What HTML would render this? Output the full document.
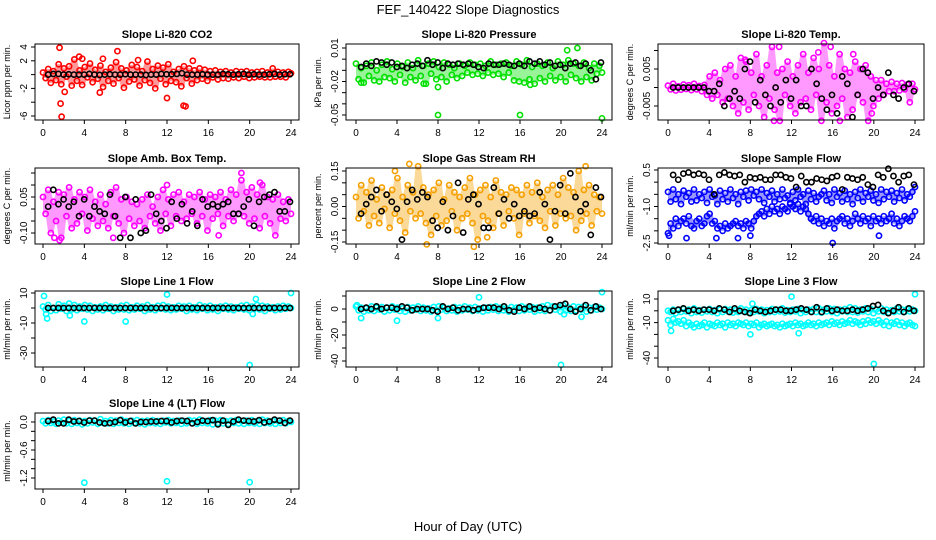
<!DOCTYPE html>
<html><head><meta charset="utf-8"><style>
body{margin:0;background:#fff;}
svg{display:block;font-family:"Liberation Sans",sans-serif;}
</style></head><body>
<svg id="chart" width="936" height="540" viewBox="0 0 936 540">
<text x="468" y="14" text-anchor="middle" font-size="13">FEF_140422  Slope Diagnostics</text>
<text x="468" y="531" text-anchor="middle" font-size="13">Hour of Day (UTC)</text>
</svg>
<script>
const co2Color=[0.3,-0.5,0.8,-1.2,0.5,-0.8,1.5,-1.4,0.9,-0.3,1.2,-1.6,2.2,-0.9,0.6,-1.5,1.1,-0.4,1.6,-1.1,0.7,-0.6,1.3,-1.8,0.4,-0.9,1.0,-1.3,1.8,-0.5,0.9,-1.9,0.6,-1.0,1.4,-0.7,1.1,-1.6,0.5,-0.8,1.9,-1.2,0.8,-2.0,1.3,-0.6,1.0,-1.4,1.5,-0.9,0.4,-1.1,0.8,-1.7,1.2,-0.5,0.9,-1.3,0.6,-0.8,0.9,-0.6,0.7,-0.9,0.5,-0.4,0.6,-0.7,0.4,-0.5,0.5,-0.6,0.3,-0.4,0.5,-0.5,0.4,-0.3,0.5,-0.5,0.3,-0.4,0.4,-0.3,0.5,-0.4,0.3,-0.4,0.9,-0.3,0.4,-0.3,0.3,-0.4,0.4,0.2];
const co2Black=[0,0.1,0.1,0,0.05,0,0,0,0.1,0,-0.05,0,0.05,0,0,0.05,0,0,0,-0.05,0,0,0.1,0.05,0.05,0.1,0.2,0,0,0,0.05,0,0,0,0.1,0.05,0,0.05,0.1,0,0.05,0,0,0.05,0.1,0,0.05,0.05];
const co2OutHr=[1.6,1.8,1.7,7.2,5.8,3.5,13.6,12,14.5,5.5,3.8,2.1,9.2,13.8];
const co2OutVal=[3.9,-6.1,-4.2,3.4,2.3,2.6,-4.5,-3.4,2.0,-2.6,2.3,-2.5,2.1,-4.6];

const presColor=[-0.004,-0.018,-0.008,-0.021,-0.006,-0.015,-0.003,-0.019,-0.010,-0.020,-0.005,-0.016,-0.002,-0.017,-0.009,-0.020,-0.004,-0.014,-0.007,-0.021,-0.003,-0.016,-0.008,-0.019,-0.001,-0.015,-0.006,-0.022,-0.004,-0.013,-0.002,-0.018,-0.007,-0.016,-0.003,-0.020,-0.005,-0.014,-0.008,-0.017,-0.004,-0.015,-0.006,-0.012,-0.003,-0.014,-0.005,-0.013,-0.004,-0.015,-0.006,-0.012,-0.002,-0.014,-0.005,-0.013,-0.004,-0.016,-0.003,-0.012,-0.006,-0.019,-0.002,-0.020,-0.005,-0.021,-0.001,-0.018,-0.007,-0.022,-0.004,-0.017,-0.006,-0.020,-0.003,-0.015,-0.008,-0.019,-0.002,-0.016,-0.005,-0.020,-0.001,-0.014,-0.004,-0.017,-0.006,-0.020,-0.003,-0.016,-0.008,-0.019,-0.004,-0.013,-0.006,-0.012];
const presBlack=[-0.007,-0.004,-0.006,-0.002,-0.003,-0.005,-0.003,-0.007,-0.006,-0.008,-0.005,-0.004,-0.006,-0.001,-0.005,-0.003,-0.008,-0.004,-0.005,-0.004,-0.005,-0.004,-0.005,-0.007,-0.008,-0.004,-0.005,-0.005,-0.004,-0.005,-0.006,-0.004,-0.006,-0.002,-0.004,-0.002,-0.005,-0.003,-0.006,-0.005,-0.008,-0.004,-0.003,-0.006,-0.004,-0.010,-0.018,-0.003];
const presOutHr=[8,8,16,24,21.6,20.6,0.5,6.6,17];
const presOutVal=[-0.025,-0.050,-0.050,-0.053,0.010,0.008,-0.021,-0.022,-0.023];

const tempColor=[0.0005,-0.0005,0.001,-0.0008,0.0003,-0.0006,0.0008,-0.0004,0.0006,-0.0007,0.001,-0.0005,0.0004,-0.001,0.0007,-0.002,0.003,-0.003,0.004,-0.002,0.002,-0.004,0.005,-0.003,0.006,-0.005,0.003,-0.007,0.008,-0.004,0.007,-0.006,0.004,-0.002,0.009,-0.005,0.003,-0.008,0.006,-0.003,0.011,-0.006,0.004,-0.009,0.005,-0.002,0.007,-0.005,0.003,-0.007,0.006,-0.004,0.009,-0.003,0.004,-0.006,0.008,-0.002,0.005,-0.009,0.012,-0.004,0.006,-0.007,0.003,-0.005,0.009,-0.003,0.005,-0.008,0.004,-0.006,0.007,-0.002,0.005,-0.004,0.006,-0.009,0.003,-0.005,0.002,-0.003,0.002,-0.002,0.001,-0.001,0.0015,-0.001,0.001,-0.0008,0.0012,-0.0005,0.0008,-0.004,0.001,-0.0005];
const tempBlack=[0,0,0,0,0,0,0,-0.001,-0.001,0.001,-0.005,-0.003,-0.001,-0.003,0.005,0.007,-0.004,0.002,-0.002,-0.005,0,-0.004,0.002,-0.003,0.002,-0.005,-0.005,0.005,0.001,-0.003,-0.006,-0.002,-0.007,0.003,0.001,-0.008,-0.002,0.005,0.004,-0.003,0,-0.002,0.004,-0.002,-0.003,0,0.001,-0.001];
const tempOutHr=[10.8,15.8,18,10.3,16.7,7.5,14.6,19.8];
const tempOutVal=[0.011,0.011,0.009,-0.009,-0.009,0.0075,0.0095,-0.007];

const ambColor=[0.05,-0.02,0.08,-0.1,0.03,-0.05,0.07,-0.12,0.06,-0.03,0.09,-0.08,0.04,-0.06,0.07,-0.02,0.05,-0.09,0.08,-0.04,0.03,-0.07,0.06,-0.05,0.02,-0.08,0.07,-0.03,0.09,-0.06,0.04,-0.1,0.05,-0.04,0.03,-0.07,0.02,-0.05,0.04,-0.08,0.06,-0.03,0.01,-0.06,0.05,-0.09,0.08,-0.02,0.04,-0.07,0.06,-0.03,0.07,-0.05,0.03,-0.04,0.06,-0.02,0.05,-0.06,0.07,-0.03,0.04,-0.09,0.06,-0.04,0.05,-0.02,0.07,-0.07,0.04,-0.03,0.08,-0.05,0.06,-0.02,0.12,-0.03,0.07,-0.06,0.09,-0.04,0.06,-0.08,0.1,-0.03,0.05,-0.06,0.04,-0.11,0.06,-0.04,0.03,-0.05,0.04,-0.02];
const ambBlack=[0.01,0.08,0.02,0.04,0.01,0.03,-0.03,0.04,-0.03,0.01,-0.01,-0.02,0.06,-0.03,-0.12,0.05,-0.12,0.04,-0.1,-0.09,0.06,-0.02,-0.05,-0.08,0.03,-0.04,0.02,-0.06,-0.01,-0.07,0.04,0.01,0.02,0.01,0.02,0.03,-0.02,-0.02,0.01,0.04,-0.07,0.03,0.05,0.06,0.07,-0.01,-0.01,0.03];
const ambOutHr=[19.2,1.1,1.6,6.8,12,17,21];
const ambOutVal=[0.15,-0.12,-0.13,-0.12,0.1,-0.11,0.11];

const rhColor=[0.04,-0.05,0.09,-0.02,0.06,-0.08,0.11,-0.04,0.03,-0.07,0.08,-0.01,0.05,-0.09,0.07,-0.03,0.12,-0.06,0.04,-0.11,0.09,-0.02,0.06,-0.05,0.17,-0.03,0.08,-0.07,0.05,-0.12,0.07,-0.04,0.1,-0.08,0.03,-0.06,0.09,-0.02,0.06,-0.1,0.04,-0.05,0.08,-0.03,0.12,-0.07,0.05,-0.14,0.07,-0.04,0.09,-0.06,0.04,-0.09,0.11,-0.03,0.06,-0.08,0.05,-0.02,0.08,-0.05,0.07,-0.12,0.05,-0.03,0.09,-0.07,0.06,-0.04,0.1,-0.06,0.04,-0.09,0.07,-0.02,0.09,-0.08,0.05,-0.03,0.12,-0.05,0.08,-0.04,0.06,-0.1,0.15,-0.06,0.07,-0.03,0.09,-0.08,0.05,-0.02,0.04,-0.03];
const rhBlack=[-0.03,0.01,0.04,0.07,-0.02,0.05,0.02,-0.01,-0.14,0.02,0.07,0.03,0.06,0.04,-0.06,-0.09,0.02,-0.1,-0.04,0.1,-0.11,0.03,0.05,0.01,-0.09,-0.09,0.08,-0.03,0.03,-0.05,0.01,-0.04,-0.02,-0.04,-0.03,0.06,0.01,-0.14,-0.02,0.09,-0.03,0.14,0.04,-0.02,0.01,-0.12,0.08,0.04];
const rhOutHr=[5.2,3.8,11.5,6.9,22.4,12.8];
const rhOutVal=[0.18,0.15,-0.17,-0.16,0.17,-0.13];

const sfUpper=[-0.4,-0.8,-0.3,-0.7,-0.5,-0.9,-0.35,-0.6,-0.45,-0.8,-0.3,-0.75,-0.5,-0.65,-0.4,-0.85,-0.3,-0.6,-0.55,-0.9,-0.35,-0.7,-0.45,-0.8,-0.3,-0.65,-0.5,-0.9,-0.4,-0.6,-0.35,-0.75,-0.3,-0.55,-0.4,-0.7,-0.3,-0.85,-0.45,-0.6,-0.35,-0.8,-0.5,-0.7,-0.3,-0.65,-0.55,-0.85,-0.4,-0.75,-0.3,-0.6,-0.5,-0.9,-0.35,-0.7,-0.45,-0.8,-0.6,-0.5,-0.35,-0.75,-0.5,-0.85,-0.3,-0.6,-0.45,-0.8,-0.35,-0.7,-0.5,-0.9,-0.4,-0.65,-0.3,-0.8,-0.45,-0.6,-0.35,-0.75,-0.5,-0.85,-0.3,-0.7,-0.4,-0.6,-0.35,-0.8,-0.45,-0.65,-0.3,-0.75,-0.5,-0.6,-0.4,-0.2];
const sfLower=[-2.1,-1.7,-1.9,-1.5,-1.8,-1.6,-1.5,-1.7,-1.4,-1.8,-1.9,-1.6,-1.5,-1.8,-1.7,-1.4,-1.3,-1.7,-1.6,-1.9,-1.8,-2.0,-1.7,-1.9,-1.8,-1.7,-1.6,-1.8,-1.7,-1.9,-1.6,-1.7,-1.9,-1.6,-1.4,-1.3,-1.2,-1.4,-1.1,-1.3,-1.0,-1.2,-1.1,-1.3,-1.0,-1.1,-1.2,-0.9,-1.0,-1.1,-0.9,-1.2,-1.0,-1.1,-1.3,-1.5,-1.6,-1.4,-1.7,-1.5,-1.8,-1.6,-1.7,-1.5,-1.9,-1.6,-1.5,-1.4,-1.7,-1.5,-1.8,-1.6,-1.3,-1.5,-1.7,-1.4,-1.6,-1.5,-1.8,-1.4,-1.6,-1.5,-1.7,-1.4,-1.6,-1.5,-1.3,-1.7,-1.5,-1.8,-1.6,-1.4,-1.5,-1.6,-1.4,-1.2];
const sfBlack=[0.3,0.1,0.35,0.4,0.3,0.35,0.3,0.1,-0.5,0.3,0.4,0.3,0.25,0.3,0.0,0.2,0.15,0.2,0.1,0.1,0.3,0.3,0.2,0.15,-0.2,0.25,0.0,0.0,0.15,0.1,0.05,0.2,0.25,-0.3,0.2,0.15,0.1,0.2,-0.1,-0.2,0.3,0.2,0.55,0.25,0.0,0.25,0.3,-0.1];
const sfOutHr=[16,20.5,0.1,1.8,4.7,6.8,8];
const sfOutVal=[-2.5,-2.2,-2.2,-2.3,-2.3,-2.3,-2.2];

const l1Color=[1,-1,2,-2,0,-1.5,2.5,-0.5,1.5,-2,3,-1,2,-1.5,1,-0.5,2,-1,1.5,-2,0.5,-1,1,-1.5,2,-0.5,1,-2,0.5,-1,1.5,-1,2,-1.5,0.5,-1,1.5,-0.5,1,-2,2,-1,0.5,-1.5,1.5,-0.5,2,-1,1,-1.5,0.5,-1,1.5,-0.5,1,-2,1.5,-1,0.5,-1.5,2,-0.5,1,-1.5,1.5,-1,0.5,-2,1,-0.5,1.5,-1,1,-1.5,0.5,-0.5,1.5,-1,2,-1.5,1,-0.5,2,-1,1.5,-2,1,-0.5,0.5,-1.5,1,-1,1.5,-0.5,1,0];
const l1Black=[0,0,0,0,0,0,0,0,0,0,0,0,0,0,0,0,0,0,0,0,0,0,0,0,0,0,0,0,0,0,0,0,0,0,0,0,0,0,0,0,0,0,0,0,0,0,0,0];
const l1OutHr=[0.1,0.3,0.4,4,8,12,2.6,20,24,20.6,20.3];
const l1OutVal=[8,-4,-7,-9,-9,9,-5,-38,10,6,-4];

const l2Color=[2,-1,1,-2,0.5,-1,2,-1.5,1,-0.5,1.5,-2,1,-1,2,-0.5,1,-1.5,0.5,-2,1.5,-1,1,-0.5,2,-1.5,1,-1,0.5,-2,1.5,-1,2,-0.5,1,-1.5,0.5,-1,1.5,-2,1,-1,2,-0.5,1,-1.5,1.5,-1,0.5,-2,1,-1,1.5,-0.5,2,-1.5,1,-1,0.5,-2,1.5,-0.5,1,-1.5,2,-1,1,-0.5,1.5,-2,1,-1,2,-1.5,3,-1,2,-0.5,1.5,-2,3,-1,1,-1.5,2,-1,1.5,-0.5,2,-2,1,-1,1.5,-0.5,1,0];
const l2Black=[0,1,0,2,0,1,1,0,2,1,-1,0,0,0,-1,-2,2,0,1,-1,0,0,-1,0,1,1,1,0,2,-1,-2,1,0,2,0,1,0,-1,2,3,4,0,-2,0,3,-1,2,0];
const l2OutHr=[0.1,0.5,4,8,12,20,24,22,20.3];
const l2OutVal=[3,-7,-9,-7,9,-43,13,-6,-4];

const l3Upper=[0,-1,1,-2,0.5,-1,1.5,-0.5,1,-2,2,-1,0.5,-1.5,1,-0.5,1.5,-1,0.5,-2,1,-1,1.5,-0.5,1,-1.5,0.5,-1,2,-0.5,1,-1.5,0.5,-1,1.5,-0.5,1,-2,0.5,-1,1.5,-1,1,-0.5,2,-1.5,0.5,-1,1,-0.5,1.5,-2,0.5,-1,1,-0.5,1.5,-1,2,-1.5,1,-0.5,2,-1,1.5,-2,1,-0.5,1.5,-1,3,-1,2,-1.5,1,-0.5,2,-1,1.5,-2,1,-0.5,2,-1,1,-1.5,0.5,-1,2,-0.5,1,-1,1.5,-0.5,1,0];
const l3Lower=[-8,-12,-7,-10,-9,-11,-8,-13,-10,-12,-14,-11,-13,-12,-10,-14,-11,-12,-13,-10,-12,-11,-14,-10,-12,-11,-13,-10,-11,-12,-10,-13,-11,-12,-10,-14,-12,-11,-13,-12,-11,-13,-12,-14,-11,-13,-12,-11,-13,-10,-12,-11,-13,-12,-10,-12,-11,-13,-10,-12,-11,-10,-12,-9,-11,-10,-12,-9,-11,-10,-8,-11,-9,-10,-12,-9,-11,-8,-10,-9,-11,-8,-10,-12,-9,-13,-10,-11,-9,-12,-10,-13,-11,-10,-12,-13];
const l3Black=[0,1,2,0,1,0,1,1,0,2,1,-1,2,0,-1,-2,1,0,-1,0,1,1,0,0,1,2,1,-1,3,-1,2,0,1,0,0,1,0,1,2,4,5,0,-2,0,3,-1,2,0];
const l3OutHr=[0.3,8,12.7,12,20,24,8.2];
const l3OutVal=[-17,-20,-19,12,-45,14,6];

const l4Color=[0.02,-0.03,0.04,-0.02,0.01,-0.04,0.03,-0.01,0.05,-0.03,0.02,-0.04,0.04,-0.02,0.03,-0.05,0.02,-0.03,0.04,-0.01,0.03,-0.04,0.06,-0.02,0.02,-0.03,0.04,-0.04,0.03,-0.02,0.05,-0.03,0.02,-0.04,0.03,-0.02,0.04,-0.03,0.02,-0.05,0.03,-0.02,0.04,-0.03,0.02,-0.04,0.03,-0.01,0.04,-0.03,0.02,-0.02,0.03,-0.04,0.02,-0.03,0.04,-0.02,0.03,-0.04,0.05,-0.02,0.02,-0.03,0.04,-0.05,0.03,-0.02,0.04,-0.03,0.02,-0.04,0.03,-0.02,0.04,-0.03,0.02,-0.04,0.03,-0.02,0.04,-0.03,0.02,-0.04,0.05,-0.02,0.03,-0.03,0.02,-0.04,0.03,-0.02,0.04,-0.03,0.02,0];
const l4Black=[0.02,0.05,-0.03,-0.03,0.05,0.01,0.02,-0.01,0.03,0.03,-0.01,-0.03,-0.02,0,0.04,-0.01,0.02,-0.03,0,0,0.01,0.01,0.02,0.02,-0.01,0.02,0.03,0.02,-0.03,0,0.03,0.02,0.04,-0.05,0.03,-0.06,0.01,0.05,0.03,0.02,0.01,0.04,-0.01,0.01,0.05,0.03,-0.02,0.03];
const l4OutHr=[4,12,20];
const l4OutVal=[-1.30,-1.27,-1.29];

const xTicks=[0,4,8,12,16,20,24];
const panels=[
 {name:"co2",title:"Slope Li-820 CO2",ylab:"Licor ppm per min.",col:0,row:0,ref:[4,47,-6,116],ticks:[4,2,0,-2,-4,-6],labels:["4","2",null,"-2",null,"-6"],color:"#ff0000",series:[co2Color],black:co2Black,outH:co2OutHr,outV:co2OutVal},
 {name:"pressure",title:"Slope Li-820 Pressure",ylab:"kPa per min.",col:1,row:0,ref:[0.01,48,-0.05,115],ticks:[0.01,0,-0.01,-0.02,-0.03,-0.04,-0.05],labels:["0.01",null,null,"-0.02",null,null,"-0.05"],color:"#00e000",series:[presColor],black:presBlack,outH:presOutHr,outV:presOutVal},
 {name:"temp",title:"Slope Li-820 Temp.",ylab:"degrees C per min.",col:2,row:0,ref:[0.005,69,-0.005,106],ticks:[0.01,0.005,0,-0.005],labels:[null,"0.005",null,"-0.005"],color:"#ff00ff",series:[tempColor],black:tempBlack,outH:tempOutHr,outV:tempOutVal},
 {name:"amb-box-temp",title:"Slope Amb. Box Temp.",ylab:"degrees C per min.",col:0,row:1,ref:[0.05,197,-0.10,233],ticks:[0.15,0.10,0.05,0,-0.05,-0.10],labels:[null,null,"0.05",null,null,"-0.10"],color:"#ff00ff",series:[ambColor],black:ambBlack,outH:ambOutHr,outV:ambOutVal},
 {name:"gas-stream-rh",title:"Slope Gas Stream RH",ylab:"percent per min.",col:1,row:1,ref:[0.15,171,-0.15,242],ticks:[0.15,0.10,0.05,0,-0.05,-0.10,-0.15],labels:["0.15",null,null,"0.00",null,null,"-0.15"],color:"#f5a000",series:[rhColor],black:rhBlack,outH:rhOutHr,outV:rhOutVal},
 {name:"sample-flow",title:"Slope Sample Flow",ylab:"ml/min per min.",col:2,row:1,ref:[0.5,170,-2.5,243],ticks:[0.5,0,-0.5,-1,-1.5,-2,-2.5],labels:["0.5",null,null,"-1.0",null,null,"-2.5"],color:"#0000ff",series:[sfUpper,sfLower],black:sfBlack,outH:sfOutHr,outV:sfOutVal},
 {name:"line1-flow",title:"Slope Line 1 Flow",ylab:"ml/min per min.",col:0,row:2,ref:[10,293,-30,353],ticks:[10,0,-10,-20,-30],labels:["10",null,"-10",null,"-30"],color:"#00ffff",series:[l1Color],black:l1Black,outH:l1OutHr,outV:l1OutVal},
 {name:"line2-flow",title:"Slope Line 2 Flow",ylab:"ml/min per min.",col:1,row:2,ref:[0,309,-40,361],ticks:[10,0,-10,-20,-30,-40],labels:[null,"0",null,"-20",null,"-40"],color:"#00ffff",series:[l2Color],black:l2Black,outH:l2OutHr,outV:l2OutVal},
 {name:"line3-flow",title:"Slope Line 3 Flow",ylab:"ml/min per min.",col:2,row:2,ref:[10,299,-40,358],ticks:[10,0,-10,-20,-30,-40],labels:["10",null,"-10",null,null,"-40"],color:"#00ffff",series:[l3Upper,l3Lower],black:l3Black,outH:l3OutHr,outV:l3OutVal},
 {name:"line4-flow",title:"Slope Line 4 (LT) Flow",ylab:"ml/min per min.",col:0,row:3,ref:[0,422,-1.2,478],ticks:[0,-0.2,-0.4,-0.6,-0.8,-1.0,-1.2],labels:["0.0",null,null,"-0.6",null,null,"-1.2"],color:"#00ffff",series:[l4Color],black:l4Black,outH:l4OutHr,outV:l4OutVal}
];
const cols=[{L:35,R:299,x0:43,x24:291},{L:346,R:612,x0:356,x24:602},{L:658,R:924,x0:668,x24:915}];
const rows=[{T:44,B:120},{T:168,B:244},{T:291,B:367},{T:413,B:489}];

const NS="http://www.w3.org/2000/svg";
const svg=document.getElementById("chart");
function mk(tag,attrs,parent){const e=document.createElementNS(NS,tag);for(const k in attrs)e.setAttribute(k,attrs[k]);parent.appendChild(e);return e;}

panels.forEach(p=>{
  const c=cols[p.col], r=rows[p.row];
  const xs=h=>c.x0+(h/24)*(c.x24-c.x0);
  const ys=v=>p.ref[1]+(v-p.ref[0])*(p.ref[3]-p.ref[1])/(p.ref[2]-p.ref[0]);
  const g=mk("g",{},svg);
  
  
  const t=mk("text",{x:(c.L+c.R)/2,y:r.T-6,"text-anchor":"middle","font-size":"11","font-weight":"bold"},g);
  t.textContent=p.title;
  
  
  const pts=mk("g",{fill:"none","stroke-width":"1.6"},g);
  
  
  p.series.forEach(arr=>{
    const n=arr.length, up=[], lo=[];
    for(let i=0;i<n;i++){let mx=-Infinity,mn=Infinity;for(let j=Math.max(0,i-1);j<=Math.min(n-1,i+1);j++){mx=Math.max(mx,arr[j]);mn=Math.min(mn,arr[j]);}up.push(mx);lo.push(mn);}
    let d="";
    for(let i=0;i<n;i++)d+=(i?"L":"M")+xs(i*24/(n-1)).toFixed(1)+","+ys(up[i]).toFixed(1);
    for(let i=n-1;i>=0;i--)d+="L"+xs(i*24/(n-1)).toFixed(1)+","+ys(lo[i]).toFixed(1);
    const band=mk("path",{d:d+"Z",fill:p.color,"fill-opacity":"0.4",stroke:"none"},pts);
    
    
    arr.forEach((v,i)=>{
      const cc=mk("circle",{cx:xs(i*24/(n-1)),cy:ys(v),r:2.6,stroke:p.color},pts);
      
      
    });
  });
  p.outH.forEach((h,i)=>{
    const cc=mk("circle",{cx:xs(h),cy:ys(p.outV[i]),r:2.6,stroke:p.color},pts);
    
    
  });
  p.black.forEach((v,i)=>{
    const cc=mk("circle",{cx:xs(0.5+i*23.4/(p.black.length-1)),cy:ys(v),r:2.6,stroke:"#000"},pts);
    
    
  });
  const b=mk("rect",{x:c.L,y:r.T,width:c.R-c.L,height:r.B-r.T,fill:"none",stroke:"#000","stroke-width":"1"},g);
  
  
  const xa=mk("g",{},g);
  
  
  mk("line",{x1:xs(0),x2:xs(24),y1:r.B,y2:r.B,stroke:"#000"},xa);
  xTicks.forEach(h=>{
    mk("line",{x1:xs(h),x2:xs(h),y1:r.B,y2:r.B+4,stroke:"#000"},xa);
    const tl=mk("text",{x:xs(h),y:r.B+16,"text-anchor":"middle","font-size":"10"},xa);
    tl.textContent=h;
    
    
  });
  const ya=mk("g",{},g);
  
  
  p.ticks.forEach((v,i)=>{
    const y=ys(v);
    mk("line",{x1:c.L-4,x2:c.L,y1:y,y2:y,stroke:"#000"},ya);
    if(p.labels[i]!==null){
      const tl=mk("text",{x:c.L-8,y:y,"text-anchor":"middle","font-size":"10",transform:"rotate(-90 "+(c.L-8)+" "+y+")"},ya);
      tl.textContent=p.labels[i];
      
      
    }
  });
  const yt=(r.T+r.B)/2, yx=c.L-25;
  const yl=mk("text",{x:yx,y:yt,"text-anchor":"middle","font-size":"9",transform:"rotate(-90 "+yx+" "+yt+")"},g);
  yl.textContent=p.ylab;
  
  
});
</script>
</body></html>
